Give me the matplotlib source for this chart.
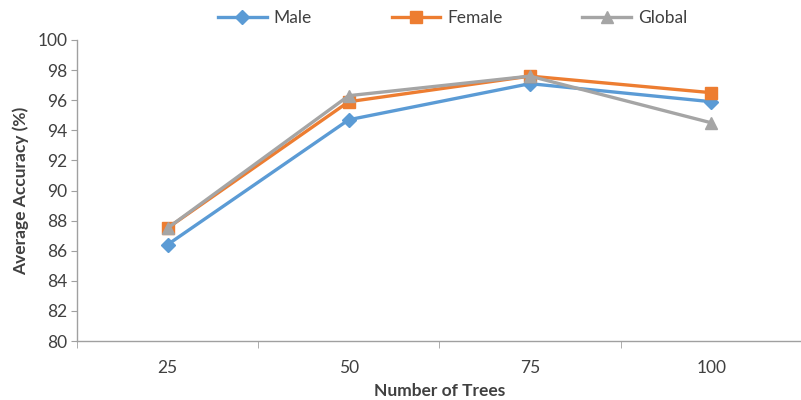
import matplotlib
matplotlib.use("Agg")
import matplotlib.pyplot as plt
from matplotlib.ticker import FixedLocator

plt.rcParams['font.family'] = ['Lato', 'DejaVu Sans']

trees = ['25', '50', '75', '100']
male = [86.4, 94.7, 97.1, 95.9]
female = [87.5, 95.9, 97.6, 96.5]
global_acc = [87.5, 96.3, 97.6, 94.5]

fig = plt.figure(figsize=(8.01, 4.0), dpi=100)
ax = fig.add_axes([0.096, 0.1475, 0.905, 0.7525])

x = list(range(len(trees)))
ax.plot(x, male, color='#5B9BD5', lw=2.4, marker='D', ms=7, label='Male')
ax.plot(x, female, color='#ED7D31', lw=2.4, marker='s', ms=8, label='Female')
ax.plot(x, global_acc, color='#A5A5A5', lw=2.4, marker='^', ms=9, label='Global')

ax.set_xlim(-0.5, 3.5)
ax.set_ylim(80, 100)
ax.set_yticks(range(80, 101, 2))
ax.set_xticks(x)
ax.set_xticklabels(trees)
ax.xaxis.set_minor_locator(FixedLocator([-0.5, 0.5, 1.5, 2.5, 3.5]))
ax.tick_params(axis='x', which='major', length=0, pad=14, labelsize=12.5)
ax.tick_params(axis='x', which='minor', length=5, color='#A0A0A0', direction='out')
ax.tick_params(axis='y', length=4, color='#A0A0A0', labelsize=12.5, pad=3)
for lbl in ax.get_xticklabels() + ax.get_yticklabels():
    lbl.set_color('#404040')

for s in ['top', 'right']:
    ax.spines[s].set_visible(False)
for s in ['left', 'bottom']:
    ax.spines[s].set_color('#A0A0A0')
    ax.spines[s].set_linewidth(1)

ax.set_xlabel('Number of Trees', fontsize=12.5, fontweight='bold', color='#404040', labelpad=5)
ax.set_ylabel('Average Accuracy (%)', fontsize=12.5, fontweight='bold', color='#404040', labelpad=6)

fig.legend(loc='upper center', bbox_to_anchor=(0.565, 1.015), ncol=3, frameon=False,
           fontsize=12.5, columnspacing=4.6, handlelength=2.8, handletextpad=0.4,
           labelcolor='#404040')

fig.savefig('out.png', dpi=100)
